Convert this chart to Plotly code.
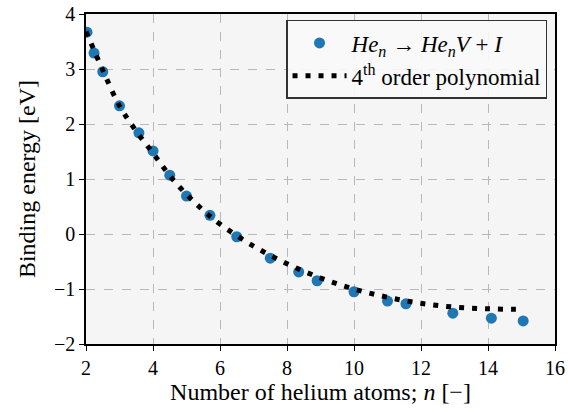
import plotly.graph_objects as go

# Data
n_atoms = [2.03, 2.24, 2.5, 3.0, 3.58, 4.0, 4.5, 5.0, 5.7, 6.5, 7.5, 8.35, 8.9,
           10.0, 11.0, 11.55, 12.95, 14.1, 15.05]
binding = [3.67, 3.29, 2.95, 2.33, 1.84, 1.51, 1.07, 0.69, 0.34, -0.05, -0.44,
           -0.69, -0.85, -1.05, -1.22, -1.27, -1.44, -1.53, -1.58]

poly_x = [2.0, 2.5, 3.0, 3.5, 4.0, 4.5, 5.0, 5.5, 6.0, 7.0, 8.0, 9.0, 10.0, 11.0,
          12.0, 13.0, 14.0, 15.0]
poly_y = [3.68, 2.98, 2.33, 1.87, 1.47, 1.06, 0.72, 0.43, 0.18, -0.22, -0.54,
          -0.80, -1.00, -1.15, -1.26, -1.33, -1.36, -1.37]

x_ticks = [2, 4, 6, 8, 10, 12, 14, 16]
y_ticks = [-2, -1, 0, 1, 2, 3, 4]

FONT = "'Liberation Serif', 'Times New Roman', Times, serif"

fig = go.Figure()
fig.add_trace(go.Scatter(
    x=n_atoms, y=binding, mode="markers",
    marker=dict(color="#1f77b4", size=11, line=dict(width=0)),
    name="<i>He</i><sub><i>n</i></sub> → <i>He</i><sub><i>n</i></sub><i>V</i> + <i>I</i>",
))
fig.add_trace(go.Scatter(
    x=poly_x, y=poly_y, mode="lines", line_shape="spline",
    line=dict(color="black", width=5, dash="5px,8px"),
    name="4<sup>th</sup> order polynomial",
))

axis_common = dict(
    showline=True, linecolor="black", linewidth=1.5, mirror=True,
    ticks="outside", ticklen=5, tickwidth=1.2, tickcolor="black",
    showgrid=True, gridcolor="#b8b8b8", gridwidth=1, griddash="dash",
    zeroline=False, automargin=False,
    tickfont=dict(family=FONT, size=20, color="black"),
)

fig.update_xaxes(range=[2, 16], tickvals=x_ticks,
                 title=dict(text="Number of helium atoms; <i>n</i> [−]",
                            font=dict(family=FONT, size=24, color="black"), standoff=3),
                 **axis_common)
fig.update_yaxes(range=[-2, 4], tickvals=y_ticks,
                 title=dict(text="Binding energy [eV]",
                            font=dict(family=FONT, size=24, color="black"), standoff=12),
                 **axis_common)

fig.update_layout(
    width=568, height=412,
    margin=dict(l=86, r=13, t=14, b=68),
    paper_bgcolor="white", plot_bgcolor="#f5f5f5",
    font=dict(family=FONT, size=20, color="black"),
    legend=dict(x=0.983, y=0.982, xanchor="right", yanchor="top",
                bgcolor="rgba(250,250,250,0.9)", bordercolor="#333333", borderwidth=1.5,
                font=dict(family=FONT, size=23, color="black"),
                itemwidth=54, tracegroupgap=0),
    showlegend=True,
)

fig.write_html("out.html")
